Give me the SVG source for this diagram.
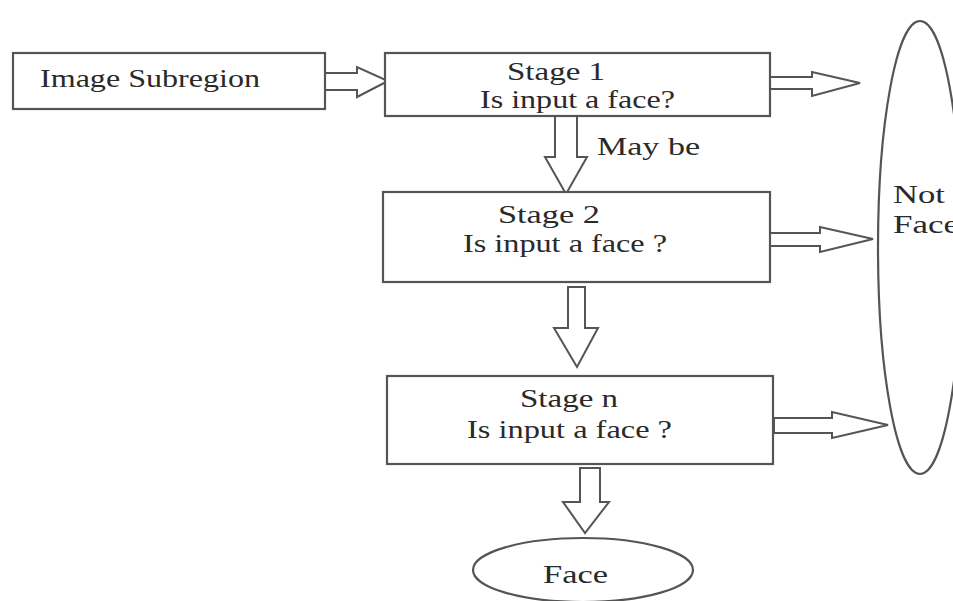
<svg xmlns="http://www.w3.org/2000/svg" width="953" height="601" viewBox="0 0 953 601">
<style>
.box{fill:#fff;stroke:#555;stroke-width:2.2}
.arr{fill:#fff;stroke:#555;stroke-width:2;stroke-linejoin:miter}
.t{font-family:"Liberation Serif","Times New Roman",serif;font-size:25px;fill:#2a2a2a}
</style>
<rect width="953" height="601" fill="#fff"/>
<g id="connectors">
<polygon class="arr" points="325,73 357,73 357,67 388,81 357,97 357,90 325,90"/>
<polygon class="arr" points="770,77 812,77 812,72 860,83 812,96 812,89 770,89"/>
<polygon class="arr" points="770,233 820,233 820,227 873,239 820,252 820,246 770,246"/>
<polygon class="arr" points="774,418 832,418 832,412 888,425 832,438 832,433 774,433"/>
<polygon class="arr" points="555,116 577,116 577,157 587,157 566,194 545,157 555,157"/>
<polygon class="arr" points="568,287 585,287 585,328 598,328 577,367 554,328 568,328"/>
<polygon class="arr" points="580,468 600,468 600,502 609,502 585,533 563,502 580,502"/>
<text class="t" x="597" y="155" textLength="103" lengthAdjust="spacingAndGlyphs">May be</text>
</g>
<g id="image-subregion">
<rect class="box" x="13" y="53" width="312" height="56"/>
<text class="t" x="40" y="87" textLength="220" lengthAdjust="spacingAndGlyphs">Image Subregion</text>
</g>
<g id="stage1">
<rect class="box" x="385" y="53" width="385" height="63"/>
<text class="t" x="507" y="80" textLength="98" lengthAdjust="spacingAndGlyphs">Stage 1</text>
<text class="t" x="480" y="108" textLength="195" lengthAdjust="spacingAndGlyphs">Is input a face?</text>
</g>
<g id="stage2">
<rect class="box" x="383" y="192" width="387" height="90"/>
<text class="t" x="498" y="223" textLength="102" lengthAdjust="spacingAndGlyphs">Stage 2</text>
<text class="t" x="463" y="252" textLength="204" lengthAdjust="spacingAndGlyphs">Is input a face ?</text>
</g>
<g id="stagen">
<rect class="box" x="387" y="376" width="386" height="88"/>
<text class="t" x="520" y="407" textLength="98" lengthAdjust="spacingAndGlyphs">Stage n</text>
<text class="t" x="467" y="438" textLength="205" lengthAdjust="spacingAndGlyphs">Is input a face ?</text>
</g>
<g id="not-face">
<ellipse class="box" cx="920" cy="247.5" rx="42" ry="226.5"/>
<text class="t" x="893" y="203" textLength="52" lengthAdjust="spacingAndGlyphs">Not</text>
<text class="t" x="893" y="233" textLength="66" lengthAdjust="spacingAndGlyphs">Face</text>
</g>
<g id="face">
<ellipse class="box" cx="583" cy="570" rx="110" ry="32"/>
<text class="t" x="543" y="583" textLength="65" lengthAdjust="spacingAndGlyphs">Face</text>
</g>
</svg>
